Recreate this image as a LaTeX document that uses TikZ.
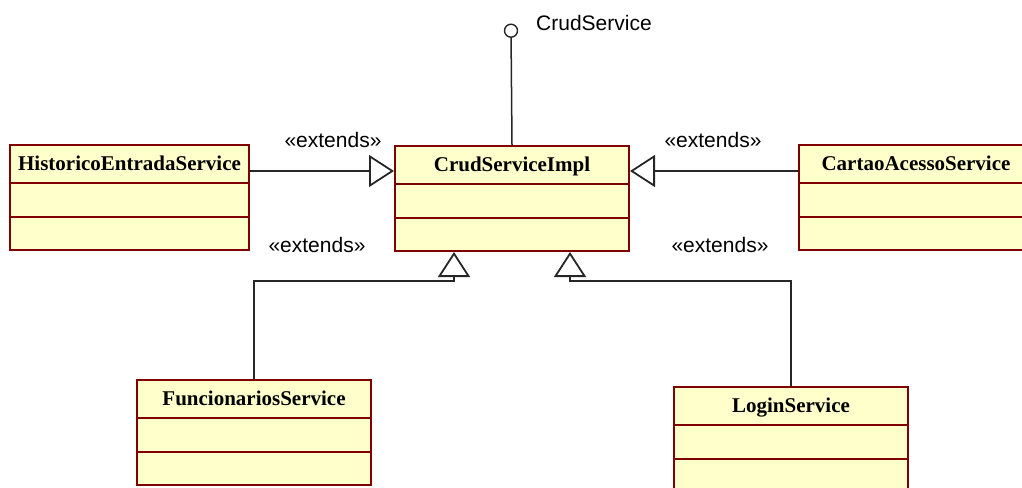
\documentclass[tikz,border=0pt]{standalone}
\usepackage{fontspec}
\setmainfont{Liberation Serif}
\setsansfont{Liberation Sans}
\usetikzlibrary{arrows.meta,calc}
\definecolor{classfill}{RGB}{255,255,204}
\definecolor{classedge}{RGB}{128,0,0}
\begin{document}
\begin{tikzpicture}[x=1pt,y=-1pt,
  classbox/.style={draw=classedge, fill=classfill, line width=2pt, inner sep=0pt,
    anchor=north west, minimum height=105pt},
  divider/.style={draw=classedge, line width=2pt},
  classname/.style={font=\fontsize{21}{24}\selectfont\bfseries, anchor=base, inner sep=0pt},
  stereo/.style={font=\sffamily\fontsize{21}{24}\selectfont, anchor=base, inner sep=0pt},
  conn/.style={draw=black!85, line width=1.5pt},
  gen/.style={conn, -{Triangle[length=25pt, width=32pt, fill=white, line width=1.8pt]}},
  lollipop/.style={circle, draw=black!85, fill=white, line width=1.4pt, minimum size=13pt, inner sep=0pt}]
\useasboundingbox (0,0) rectangle (1022,487);
\clip (0,0) rectangle (1022,487);

% classes
\node[classbox, minimum width=239pt] (hist) at (9,144) {};
\node[classbox, minimum width=234pt] (crud) at (394,145) {};
\node[classbox, minimum width=234pt] (cartao) at (798,144) {};
\node[classbox, minimum width=234pt] (func) at (136,379) {};
\node[classbox, minimum width=234pt] (login) at (673,386) {};

\foreach \c in {hist,crud,cartao,func,login} {
  \draw[divider] ([yshift=-38.5pt]\c.north west) -- ([yshift=-38.5pt]\c.north east);
  \draw[divider] ([yshift=-72.5pt]\c.north west) -- ([yshift=-72.5pt]\c.north east);
}

\node[classname] (histname) at ($(hist.north)+(0,26)$) {HistoricoEntradaService};
\node[classname] (crudname) at ($(crud.north)+(0,26)$) {CrudServiceImpl};
\node[classname] (cartaoname) at ($(cartao.north)+(0,26)$) {CartaoAcessoService};
\node[classname] (funcname) at ($(func.north)+(0,26)$) {FuncionariosService};
\node[classname] (loginname) at ($(login.north)+(0,26)$) {LoginService};

% provided interface
\node[lollipop] (iface) at (511,30.7) {};
\node[stereo, anchor=base west] (ifacename) at (536,30.7) {CrudService};
\draw[conn] (iface) -- (crud.north);

% generalizations
\draw[gen] ($(hist.north east)+(0,27)$) -- ($(crud.north west)+(0,26)$);
\draw[gen] ($(cartao.north west)+(0,27)$) -- ($(crud.north east)+(0,26)$);
\draw[gen] (func.north) |- ($(crud.south)+(-58,29)$) -- ($(crud.south)+(-58,0)$);
\draw[gen] (login.north) |- ($(crud.south)+(58,29)$) -- ($(crud.south)+(58,0)$);

\node[stereo] (ext1) at (333,147) {«extends»};
\node[stereo] (ext2) at (713,147) {«extends»};
\node[stereo] (ext3) at (317,252) {«extends»};
\node[stereo] (ext4) at (720,252) {«extends»};
\end{tikzpicture}
\end{document}
